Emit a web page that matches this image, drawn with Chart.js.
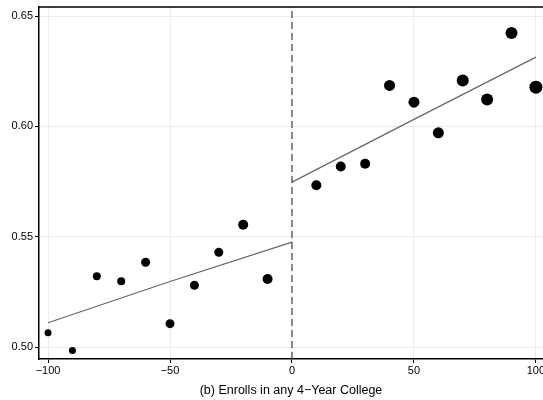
<!DOCTYPE html>
<html>
<head>
<meta charset="utf-8">
<script src="https://cdn.jsdelivr.net/npm/chart.js@4.4.1/dist/chart.umd.min.js"></script>
<style>
  html, body { margin: 0; padding: 0; background: #fff; }
  #wrap { width: 543px; height: 400px; }
</style>
</head>
<body>
<div id="wrap"><canvas id="chart"></canvas></div>
<script>
// Binned means by distance to cutoff
const binsLeft = [-100, -90, -80, -70, -60, -50, -40, -30, -20, -10];
const meansLeft = [0.5066, 0.4986, 0.5322, 0.5299, 0.5385, 0.5107, 0.5281, 0.5430, 0.5555, 0.5309];
const sizesLeft = [3.5, 3.5, 4, 4, 4.5, 4.5, 4.5, 4.5, 5, 5];

const binsRight = [10, 20, 30, 40, 50, 60, 70, 80, 90, 100];
const meansRight = [0.5734, 0.5819, 0.5831, 0.6186, 0.6110, 0.5971, 0.6208, 0.6122, 0.6423, 0.6178];
const sizesRight = [5, 5, 5, 5.5, 5.5, 5.5, 6, 6, 6, 6.5];

// Fitted lines on each side
const fitLeftX = [-100, -50, 0];
const fitLeftY = [0.5111, 0.5298, 0.5476];
const fitRightX = [0, 50, 100];
const fitRightY = [0.5748, 0.6032, 0.6314];

const xTicks = [-100, -50, 0, 50, 100];
const yTicks = [0.50, 0.55, 0.60, 0.65];
const xRange = [-103.7, 102.9];
const yRange = [0.4947, 0.6541];

function toPoints(xs, ys) {
    return xs.map((x, i) => ({ x: x, y: ys[i] }));
}

const topBorder = {
    id: 'topBorder',
    afterDraw(chart) {
        const { ctx, chartArea } = chart;
        ctx.save();
        ctx.strokeStyle = '#000';
        ctx.lineWidth = 1.5;
        ctx.beginPath();
        ctx.moveTo(chartArea.left, chartArea.top);
        ctx.lineTo(chartArea.right, chartArea.top);
        ctx.stroke();
        ctx.restore();
    }
};

const font = { family: '"Liberation Sans", Arial, sans-serif', size: 11 };

new Chart(document.getElementById('chart'), {
    type: 'scatter',
    data: {
        datasets: [
            {
                data: toPoints([0, 0], yRange),
                showLine: true,
                borderColor: '#444',
                borderWidth: 1.2,
                borderDash: [7, 4],
                pointRadius: 0
            },
            {
                data: toPoints(fitLeftX, fitLeftY),
                showLine: true,
                borderColor: '#666',
                borderWidth: 1.2,
                pointRadius: 0
            },
            {
                data: toPoints(fitRightX, fitRightY),
                showLine: true,
                borderColor: '#666',
                borderWidth: 1.2,
                pointRadius: 0
            },
            {
                data: toPoints(binsLeft, meansLeft),
                backgroundColor: '#000',
                borderWidth: 0,
                pointRadius: sizesLeft
            },
            {
                data: toPoints(binsRight, meansRight),
                backgroundColor: '#000',
                borderWidth: 0,
                pointRadius: sizesRight
            }
        ]
    },
    options: {
        responsive: true,
        maintainAspectRatio: false,
        animation: false,
        layout: { autoPadding: false, padding: { top: 7, right: 0, left: 0, bottom: 0 } },
        plugins: {
            legend: { display: false },
            tooltip: { enabled: false }
        },
        scales: {
            x: {
                type: 'linear',
                min: xRange[0],
                max: xRange[1],
                afterBuildTicks: axis => { axis.ticks = xTicks.map(v => ({ value: v })); },
                afterFit: axis => {
                    axis.height = 41;
                    axis.paddingLeft = 0;
                    axis.paddingRight = 0;
                },
                ticks: {
                    color: '#000',
                    font: font,
                    padding: 1,
                    maxRotation: 0,
                    callback: v => String(v).replace('-', '\u2212')
                },
                grid: { color: '#ececec', tickColor: '#000', tickLength: 4 },
                border: { color: '#000', width: 1.5 },
                title: {
                    display: true,
                    text: '(b) Enrolls in any 4\u2212Year College',
                    color: '#000',
                    font: { family: font.family, size: 12.5 },
                    padding: { top: 4, bottom: 2 }
                }
            },
            y: {
                type: 'linear',
                min: yRange[0],
                max: yRange[1],
                afterBuildTicks: axis => { axis.ticks = yTicks.map(v => ({ value: v })); },
                afterFit: axis => {
                    axis.width = 39;
                    axis.paddingTop = 0;
                    axis.paddingBottom = 0;
                },
                ticks: {
                    color: '#000',
                    font: font,
                    padding: 2,
                    callback: v => v.toFixed(2)
                },
                grid: { color: '#ececec', tickColor: '#000', tickLength: 4 },
                border: { color: '#000', width: 1.5 }
            }
        }
    },
    plugins: [topBorder]
});
</script>
</body>
</html>
